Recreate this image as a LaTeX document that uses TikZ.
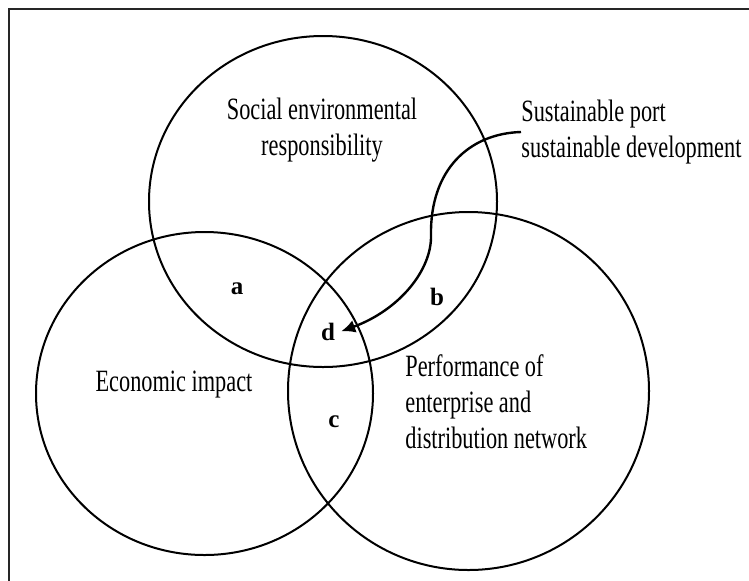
\documentclass[tikz,border=0pt]{standalone}
\usepackage{fontspec}
\setmainfont{Liberation Serif}[FakeStretch=0.72]
\newfontfamily\zonefont{Liberation Serif}
\usetikzlibrary{positioning,shapes.geometric,arrows.meta}

\tikzset{
  venn/.style={draw=black,ellipse,line width=1pt,inner sep=0pt},
  txt/.style={font=\fontsize{15.5}{18}\selectfont,inner sep=0pt},
  zone/.style={font=\zonefont\fontsize{12.5}{14}\selectfont\bfseries,inner sep=2pt},
}

\begin{document}
\begin{tikzpicture}[x=0.5pt,y=-0.5pt]
		\useasboundingbox (0,0) rectangle (749,580);
		\draw[line width=1pt,black!85] (9,585) -- (9,9) -- (754,9);
		
		% the three circles
		\node[venn,minimum width=174pt,minimum height=165.5pt] (social) at (323,201.5) {};
		\node[venn,minimum width=168.5pt,minimum height=161.5pt] (econ) at (204.5,393.5) {};
		\node[venn,minimum width=180.5pt,minimum height=179pt] (perf) at (468.5,391) {};
		
		\node[txt,align=center] (socialtxt) at (322,130) {Social environmental\\responsibility};
		\node[txt,align=left,anchor=west] (sustxt) at (521,132) {Sustainable port\\sustainable development};
		\node[txt,anchor=base] (econtxt) at (174,391) {Economic impact};
		\node[txt,align=left,anchor=west] (perftxt) at (405,402) {Performance of\\enterprise and\\distribution network};
		
		\node[zone] (a) at (237,289) {a};
		\node[zone] (b) at (437,297) {b};
		\node[zone] (c) at (334,422) {c};
		\node[zone] (d) at (328,332) {d};
		
		\coordinate (bend) at (431,235);
		\draw[line width=1.2pt,-{Latex[length=7pt,width=6.5pt]},shorten >=1pt] (sustxt.west) .. controls +(-52,1.5) and +(-1,-65) .. (bend) .. controls +(1,35) and +(60,-22) .. (d.east);
	\end{tikzpicture}
\end{document}
